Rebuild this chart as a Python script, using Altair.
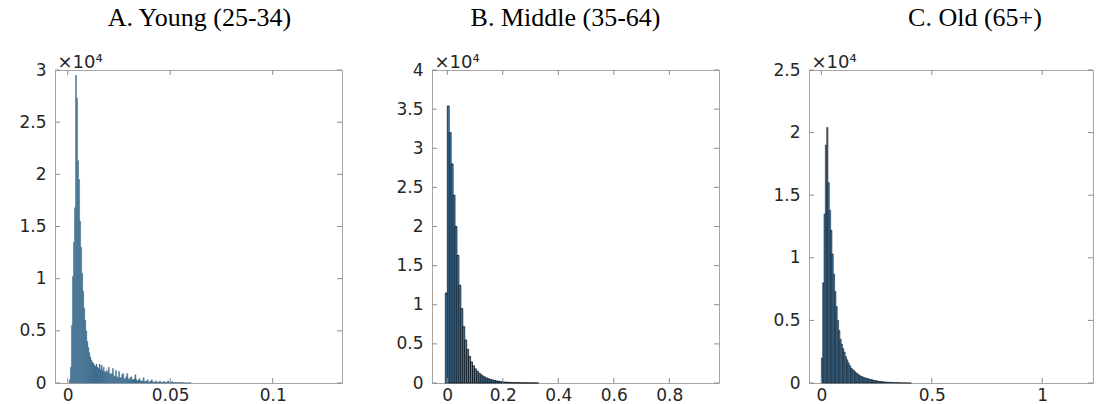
import altair as alt
import pandas as pd

# ---------------- data (bin start, bin width, counts) ----------------
A_TITLE = "A. Young (25-34)"
A_START, A_STEP = 0.0008, 0.0005
A_COUNTS_K = [0.3, 1.5, 5.5, 10.2, 13.5, 16.8, 29.5, 27.3, 21.3, 19.5, 15.5, 13.0, 10.5, 8.8,
              7.2, 6.0, 5.0, 4.0, 3.4, 2.9, 2.5, 2.2, 2.0, 1.9, 1.7, 1.6, 1.8, 1.5, 1.4, 1.8,
              1.3, 1.7, 1.2, 1.5, 1.1, 1.0, 1.2, 1.0, 1.5, 0.9, 0.8, 0.9, 1.4, 0.7, 0.6, 1.2,
              0.6, 0.5, 1.1, 0.5, 0.5, 0.8, 0.9, 0.4, 0.4, 0.6, 0.9, 0.4, 0.3, 0.5, 0.6, 0.3,
              0.3, 0.4, 0.8, 0.3, 0.2, 0.3, 0.4, 0.2, 0.2, 0.2, 0.5, 0.15, 0.15, 0.2, 0.3, 0.1,
              0.1, 0.2, 0.3, 0.1, 0.1, 0.1, 0.2, 0.1, 0.05, 0.1, 0.2, 0.05, 0.05, 0.1, 0.15,
              0.05, 0.05, 0.1, 0.2, 0.05, 0.05, 0.05, 0.15, 0.03, 0.03, 0.05, 0.05, 0.02, 0.02,
              0.03, 0.05, 0.02, 0.02, 0.02, 0.01, 0.02, 0.01, 0.01, 0.01, 0.02, 0.01]
A_XTICKS = [0, 0.05, 0.1]
A_YTICKS = [0, 5000, 10000, 15000, 20000, 25000, 30000]

B_TITLE = "B. Middle (35-64)"
B_START, B_STEP = -0.007, 0.007
B_COUNTS_K = [11.5, 35.4, 32.0, 28.0, 24.0, 20.0, 16.3, 12.5, 9.5, 7.2, 5.5, 4.3, 3.4, 2.7,
              2.2, 1.8, 1.5, 1.25, 1.05, 0.88, 0.74, 0.62, 0.52, 0.44, 0.37, 0.31, 0.26,
              0.22, 0.18, 0.15, 0.12, 0.1, 0.08, 0.065, 0.05, 0.04, 0.035, 0.03, 0.025, 0.02,
              0.015, 0.012, 0.01, 0.008, 0.006, 0.005, 0.004, 0.003]
B_XTICKS = [0, 0.2, 0.4, 0.6, 0.8]
B_YTICKS = [0, 5000, 10000, 15000, 20000, 25000, 30000, 35000, 40000]

C_TITLE = "C. Old (65+)"
C_START, C_STEP = 0.0, 0.006
C_COUNTS_K = [2.0, 8.0, 13.5, 19.0, 20.4, 16.0, 13.8, 12.2, 10.3, 8.7, 7.3, 6.1, 5.0, 4.2,
              3.5, 3.1, 2.75, 2.45, 2.1, 1.85, 1.6, 1.4, 1.2, 1.1, 1.0, 0.9, 0.8, 0.72, 0.64,
              0.57, 0.52, 0.47, 0.43, 0.4, 0.37, 0.33, 0.3, 0.27, 0.25, 0.22, 0.2, 0.18, 0.16,
              0.14, 0.12, 0.11, 0.1, 0.09, 0.08, 0.07, 0.06, 0.05, 0.05, 0.04, 0.04, 0.03,
              0.03, 0.025, 0.02, 0.02, 0.015, 0.01, 0.01, 0.008, 0.006, 0.005, 0.004, 0.003]
C_XTICKS = [0, 0.5, 1]
C_YTICKS = [0, 5000, 10000, 15000, 20000, 25000]

LABEL_FONT = "DejaVu Sans"
TITLE_FONT = "Liberation Serif"
TICK_COLOR = "#8c8c8c"
TEXT_COLOR = "#262626"
H = 313


def panel(title, dx, start, step, counts_k, xdom, ydom, xticks, yticks, w,
          fill, stroke, sw):
    lo = [start + i * step for i in range(len(counts_k))]
    df = pd.DataFrame({
        "lo": lo,
        "hi": [v + step for v in lo],
        "count": [c * 1000 for c in counts_k],
        "base": [0] * len(lo),
    })
    xs = alt.Scale(domain=xdom, nice=False, zero=False)
    ys = alt.Scale(domain=ydom, nice=False, zero=False)
    x_axis = alt.Axis(
        values=xticks, format="~g", title=None, grid=False, domain=False,
        ticks=False, tickSize=0, labelPadding=4, labelFlush=False,
        labelFont=LABEL_FONT, labelFontSize=17, labelColor=TEXT_COLOR)
    y_axis = alt.Axis(
        values=yticks, labelExpr="datum.value / 10000 + ''", grid=False,
        domain=False, ticks=False, tickSize=0, labelPadding=9,
        labelFont=LABEL_FONT, labelFontSize=17, labelColor=TEXT_COLOR,
        title="×10⁴", titleAngle=0, titleX=2, titleY=-3, titleAlign="left",
        titleBaseline="alphabetic", titleFont=LABEL_FONT, titleFontSize=18,
        titleFontWeight="normal", titleColor=TEXT_COLOR)
    bars = alt.Chart(df).mark_rect(fill=fill, stroke=stroke, strokeWidth=sw).encode(
        x=alt.X("lo:Q", scale=xs, axis=x_axis),
        x2="hi:Q",
        y=alt.Y("count:Q", scale=ys, axis=y_axis),
        y2="base:Q",
    )
    xt = pd.DataFrame({"v": xticks})
    yt = pd.DataFrame({"v": yticks})
    tb = alt.Chart(xt).mark_rule(color=TICK_COLOR, strokeWidth=1).encode(
        x=alt.X("v:Q", scale=xs, axis=x_axis), y=alt.value(H), y2=alt.value(H - 5))
    tt = alt.Chart(xt).mark_rule(color=TICK_COLOR, strokeWidth=1).encode(
        x=alt.X("v:Q", scale=xs, axis=x_axis), y=alt.value(0), y2=alt.value(5))
    tl = alt.Chart(yt).mark_rule(color=TICK_COLOR, strokeWidth=1).encode(
        y=alt.Y("v:Q", scale=ys, axis=y_axis), x=alt.value(0), x2=alt.value(5))
    tr = alt.Chart(yt).mark_rule(color=TICK_COLOR, strokeWidth=1).encode(
        y=alt.Y("v:Q", scale=ys, axis=y_axis), x=alt.value(w), x2=alt.value(w - 5))
    return alt.layer(bars, tb, tt, tl, tr).properties(
        width=w, height=H,
        title=alt.TitleParams(title, font=TITLE_FONT, fontSize=26, fontWeight="normal",
                              color="black", anchor="middle", frame="group",
                              offset=1, baseline="alphabetic", dx=dx),
    )


pa = panel(A_TITLE, 1, A_START, A_STEP, A_COUNTS_K, [-0.0062, 0.1338], [0, 30000],
           A_XTICKS, A_YTICKS, 287, "#3e6e91", "#3a6a8c", 0.4)
pb = panel(B_TITLE, -10, B_START, B_STEP, B_COUNTS_K, [-0.055, 0.979], [0, 40000],
           B_XTICKS, B_YTICKS, 287, "#4a8bbd", "#000000", 0.7)
pc = panel(C_TITLE, 24, C_START, C_STEP, C_COUNTS_K, [-0.056, 1.23], [0, 25000],
           C_XTICKS, C_YTICKS, 284, "#4a8bbd", "#000000", 0.5)

chart = alt.hconcat(pa, pb, pc, spacing=90, bounds="flush").properties(
    padding={"left": 18, "top": 4, "right": 8, "bottom": 1},
    background="white",
).configure_view(stroke="#a6a6a6", strokeWidth=1)

chart.save("out.html", embed_options={"renderer": "svg", "actions": False})
